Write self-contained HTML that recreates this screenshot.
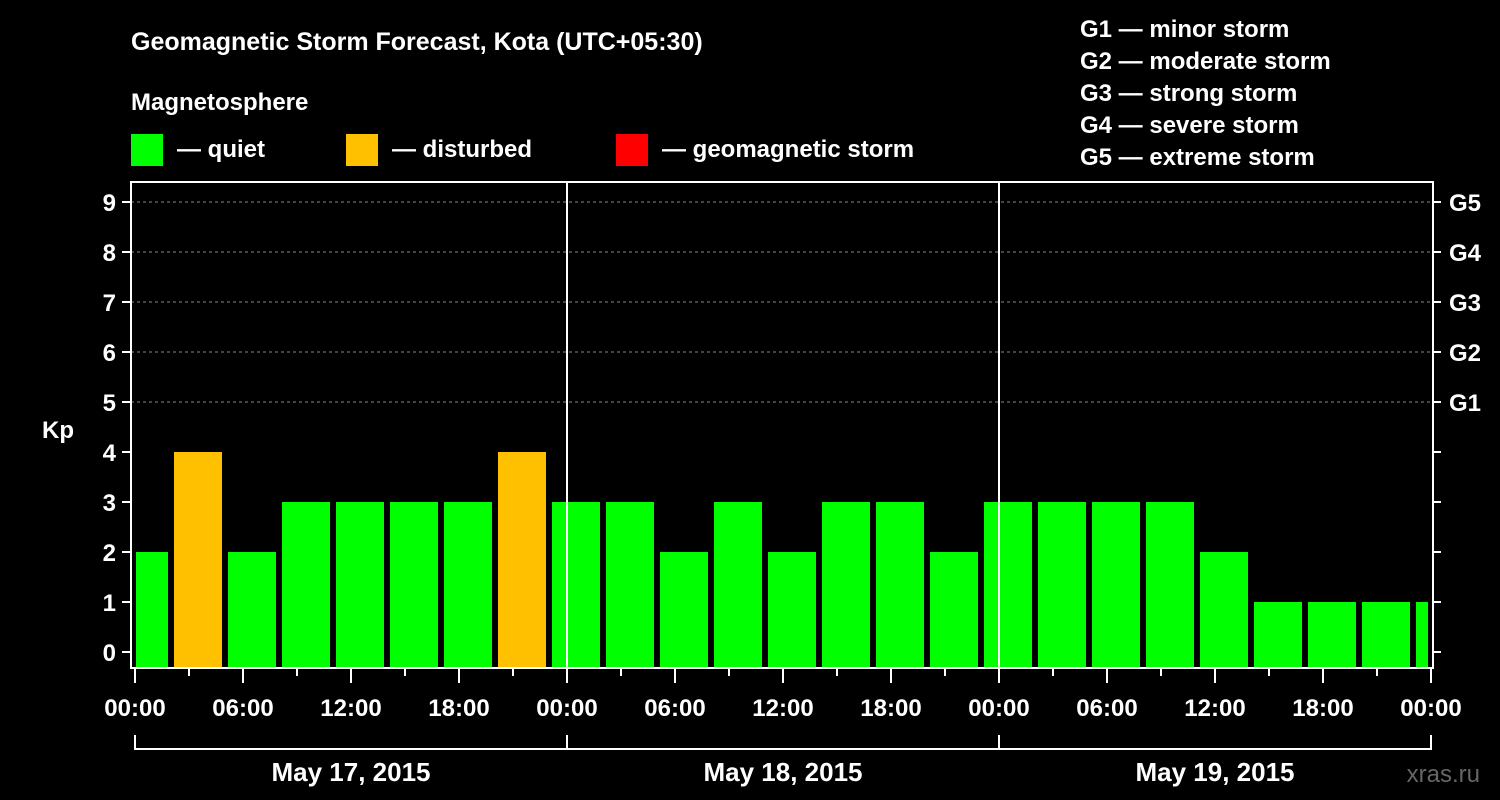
<!DOCTYPE html>
<html><head><meta charset="utf-8"><style>
html,body{margin:0;padding:0;background:#000;}
svg{display:block;font-family:"Liberation Sans",sans-serif;font-weight:bold;}
</style></head><body>
<svg id="c" width="1500" height="800">
<text x="131" y="50" fill="#fff" font-size="25">Geomagnetic Storm Forecast, Kota (UTC+05:30)</text>
<text x="131" y="110" fill="#fff" font-size="24">Magnetosphere</text>
<rect x="131" y="134" width="32" height="32" fill="#00ff00"/>
<text x="177" y="157" fill="#fff" font-size="24">— quiet</text>
<rect x="346" y="134" width="32" height="32" fill="#ffc000"/>
<text x="392" y="157" fill="#fff" font-size="24">— disturbed</text>
<rect x="616" y="134" width="32" height="32" fill="#ff0000"/>
<text x="662" y="157" fill="#fff" font-size="24">— geomagnetic storm</text>
<g fill="#fff" font-size="24">
<text x="1080" y="37">G1 — minor storm</text>
<text x="1080" y="69">G2 — moderate storm</text>
<text x="1080" y="101">G3 — strong storm</text>
<text x="1080" y="133">G4 — severe storm</text>
<text x="1080" y="165">G5 — extreme storm</text>
</g>
<text x="42" y="438" fill="#fff" font-size="24">Kp</text>
<text x="1480" y="782" fill="#666" font-size="24" text-anchor="end" font-weight="normal">xras.ru</text>
<g id="grid"></g><g id="bars"></g><g id="axes"></g>
</svg>
<script>
const firstValue = 2;
const kpValues = [4,2,3,3,3,3,4,3,3,2,3,2,3,3,2,3,3,3,3,2,1,1,1,1];
const yTicks = [0,1,2,3,4,5,6,7,8,9];
const gLabels = ["G1","G2","G3","G4","G5"];
const timeLabels = ["00:00","06:00","12:00","18:00","00:00","06:00","12:00","18:00","00:00","06:00","12:00","18:00","00:00"];
const dateLabels = ["May 17, 2015","May 18, 2015","May 19, 2015"];
const NS="http://www.w3.org/2000/svg";
const X0=135,PXH=18,TOTALH=72,Y0=652,PXK=50,TOP=182,BOT=668,LEFT=131,RIGHT=1433;
const x=h=>X0+h*PXH, y=k=>Y0-k*PXK;
function mk(t,a,p){const e=document.createElementNS(NS,t);for(const k in a)e.setAttribute(k,a[k]);p.appendChild(e);return e;}
const grid=document.getElementById('grid'),bars=document.getElementById('bars'),axes=document.getElementById('axes');
const col=v=>v>=5?"#ff0000":v>=4?"#ffc000":"#00ff00";
yTicks.filter(k=>k>=5).forEach(k=>{const l=mk('line',{x1:LEFT,x2:RIGHT,y1:y(k),y2:y(k),stroke:'#888','stroke-dasharray':'3,3','stroke-width':1},grid);

});
// first partial bar
let r=mk('rect',{x:LEFT+5,y:y(firstValue),width:x(2)-3-(LEFT+5),height:BOT-y(firstValue),fill:col(firstValue)},bars);


const xEnd=x(TOTALH)-3;
kpValues.forEach((v,i)=>{const s=x(2+3*i)+3;const e=Math.min(s+48,xEnd);
const b=mk('rect',{x:s,y:y(v),width:e-s,height:BOT-y(v),fill:col(v)},bars);

});
const W={stroke:'#fff','stroke-width':2,fill:'none'};
let f=mk('path',Object.assign({d:`M${LEFT},${TOP}H${RIGHT}V${BOT}H${LEFT}Z`},W),axes);


[1,2].forEach(d=>{const l=mk('line',Object.assign({x1:x(24*d),x2:x(24*d),y1:TOP,y2:BOT},W),axes);

});
yTicks.forEach(k=>{mk('line',Object.assign({x1:LEFT-9,x2:LEFT,y1:y(k),y2:y(k)},W),axes);
mk('line',Object.assign({x1:RIGHT,x2:RIGHT+8,y1:y(k),y2:y(k)},W),axes);
const t=mk('text',{x:116,y:y(k)+9,fill:'#fff','font-size':24,'text-anchor':'end'},axes);t.textContent=k;

});
gLabels.forEach((g,i)=>{const t=mk('text',{x:1449,y:y(5+i)+9,fill:'#fff','font-size':24},axes);t.textContent=g;

});
for(let h=0;h<=TOTALH;h+=3){mk('line',Object.assign({x1:x(h),x2:x(h),y1:BOT,y2:BOT+(h%6?8:15)},W),axes);}
timeLabels.forEach((s,i)=>{const t=mk('text',{x:x(6*i),y:716,fill:'#fff','font-size':24,'text-anchor':'middle'},axes);t.textContent=s;

});
mk('path',Object.assign({d:`M${x(0)},735V749H${x(TOTALH)}V735`},W),axes);
dateLabels.forEach((s,i)=>{mk('line',Object.assign({x1:x(24*i),x2:x(24*i),y1:735,y2:749},W),axes);
const t=mk('text',{x:x(24*i+12),y:781,fill:'#fff','font-size':26,'text-anchor':'middle'},axes);t.textContent=s;

});
</script>
</body></html>
